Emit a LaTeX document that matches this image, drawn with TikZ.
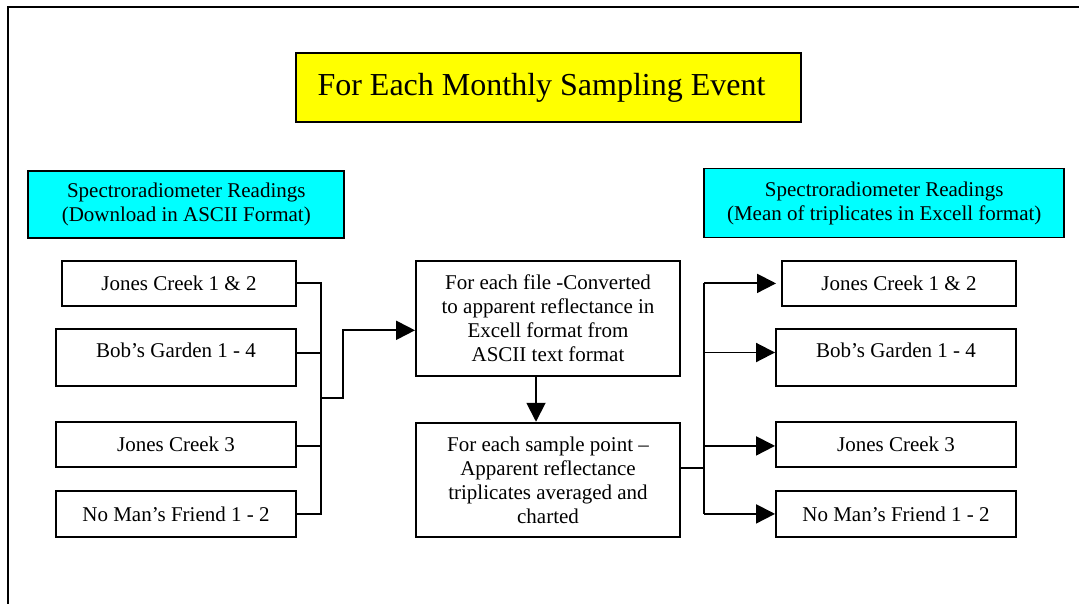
\documentclass[tikz,border=0pt]{standalone}
\usepackage{fontspec}
\setmainfont{Liberation Serif}
\usetikzlibrary{arrows.meta}

\definecolor{titleyellow}{RGB}{255,255,0}
\definecolor{headcyan}{RGB}{0,255,255}

\tikzset{
  box/.style={draw=black, line width=1.9pt, rectangle, inner sep=0pt, align=center,
              font=\fontsize{21}{24}\selectfont},
  header/.style={box, fill=headcyan},
  wire/.style={draw=black, line width=1.9pt},
  flow/.style={wire, -{Triangle[length=19pt, width=19pt]}},
}

\begin{document}
\begin{tikzpicture}[x=1pt, y=-1pt]
  \useasboundingbox (0,0) rectangle (1079,603);

  % open frame: left and top edges only
  \draw[line width=1.9pt] (8,610) -- (8,7) -- (1090,7);

  % title
  \node[box, fill=titleyellow, minimum width=505pt, minimum height=69pt,
        font=\fontsize{32}{36}\selectfont] (title) at (548.5,87.5)
        {\hspace*{-14pt}For Each Monthly Sampling Event};

  % column headers
  \node[header, minimum width=316pt, minimum height=67pt] (srcH) at (186.3,204.5)
        {Spectroradiometer Readings\\(Download in ASCII Format)};
  \node[header, minimum width=360pt, minimum height=69pt] (dstH) at (884.2,203)
        {Spectroradiometer Readings\\(Mean of triplicates in Excell format)};

  % input sites
  \node[box, minimum width=234pt, minimum height=45pt] (src1) at (179,283.4) {Jones Creek 1 \& 2};
  \node[box, minimum width=240pt, minimum height=57pt, text depth=15pt] (src2) at (176,357.7) {Bob’s Garden 1 - 4};
  \node[box, minimum width=240pt, minimum height=45.6pt] (src3) at (176,444.5) {Jones Creek 3};
  \node[box, minimum width=240pt, minimum height=46.3pt] (src4) at (176,513.9) {No Man’s Friend 1 - 2};

  % processing steps
  \node[box, minimum width=264pt, minimum height=115pt] (conv) at (548,318.3)
        {For each file -Converted\\to apparent reflectance in\\Excell format from\\ASCII text format};
  \node[box, minimum width=264pt, minimum height=114.6pt] (avg) at (548,480)
        {For each sample point –\\Apparent reflectance\\triplicates averaged and\\charted};

  % output sites
  \node[box, minimum width=234pt, minimum height=45pt] (dst1) at (899,283.4) {Jones Creek 1 \& 2};
  \node[box, minimum width=240pt, minimum height=57pt, text depth=15pt] (dst2) at (896,357.5) {Bob’s Garden 1 - 4};
  \node[box, minimum width=240pt, minimum height=45.6pt] (dst3) at (896,444.4) {Jones Creek 3};
  \node[box, minimum width=240pt, minimum height=46.3pt] (dst4) at (896,513.9) {No Man’s Friend 1 - 2};

  % collecting bus on the left
  \coordinate (lb) at (321,0);
  \coordinate (lj) at (321,398);
  \draw[wire] (src1.east) -- (src1.east -| lb) -- (src4.east -| lb) -- (src4.east);
  \draw[wire] ([yshift=5pt]src2.east) -- ([yshift=5pt]src2.east -| lb);
  \draw[wire] ([yshift=-1.5pt]src3.east) -- ([yshift=-1.5pt]src3.east -| lb);
  \draw[flow] (lj) -- ++(22,0) |- ([yshift=-12pt]conv.west);

  % conversion to averaging
  \draw[flow] ([xshift=-12pt]conv.south) -- ([xshift=-12pt]avg.north);

  % distributing bus on the right
  \coordinate (rb) at (704,0);
  \draw[wire] ([yshift=12pt]avg.east) -- ([yshift=12pt]avg.east -| rb);
  \draw[wire] (dst1.west -| rb) -- (dst4.west -| rb);
  \draw[flow, shorten >=5pt] (dst1.west -| rb) -- (dst1.west);
  \draw[flow] ([yshift=5pt]dst2.west -| rb) -- ([yshift=5pt]dst2.west);
  \draw[flow] ([yshift=-1.5pt]dst3.west -| rb) -- ([yshift=-1.5pt]dst3.west);
  \draw[flow] (dst4.west -| rb) -- (dst4.west);
\end{tikzpicture}
\end{document}
